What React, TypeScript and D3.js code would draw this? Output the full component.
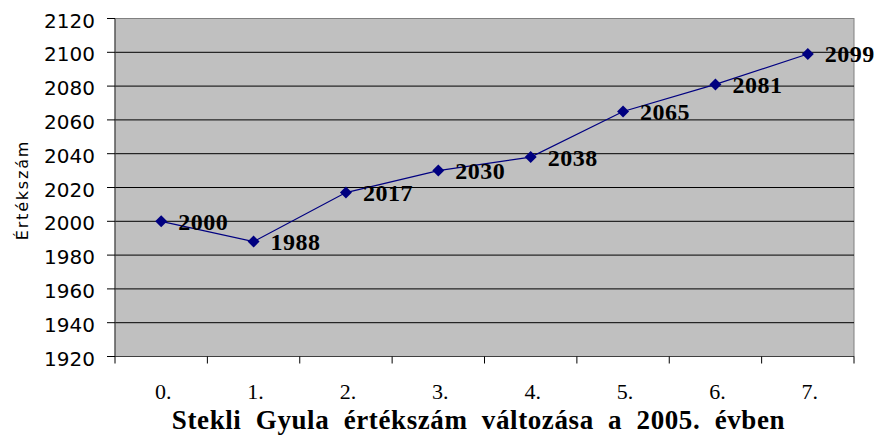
import * as d3 from "d3";

const categories = ["0.", "1.", "2.", "3.", "4.", "5.", "6.", "7."];
const values = [2000, 1988, 2017, 2030, 2038, 2065, 2081, 2099];
const yTicks = [1920, 1940, 1960, 1980, 2000, 2020, 2040, 2060, 2080, 2100, 2120];
const title = "Stekli Gyula értékszám változása a 2005. évben";
const yTitle = "Értékszám";

export default function App() {
  const width = 878;
  const height = 436;
  const left = 115;
  const right = 854;
  const top = 18.5;
  const bottom = 356.5;

  const x = d3.scaleBand().domain(categories).range([left, right]);
  const y = d3.scaleLinear().domain([1920, 2120]).range([bottom, top]);
  const line = d3
    .line<number>()
    .x((_, i) => x(categories[i])! + x.bandwidth() / 2)
    .y((d) => y(d));

  const bounds = d3.range(categories.length + 1).map((i) => left + i * x.bandwidth());

  return (
    <svg
      width={width}
      height={height}
      viewBox={`0 0 ${width} ${height}`}
      style={{ position: "absolute", left: 0, top: 0, background: "#fff" }}
    >
      <rect x={left} y={top} width={right - left} height={bottom - top} fill="#c0c0c0" stroke="#808080" />
      {yTicks.slice(1, -1).map((t) => (
        <line key={t} x1={left} x2={right} y1={y(t)} y2={y(t)} stroke="#000" strokeWidth={1} />
      ))}
      <line x1={left} x2={left} y1={top} y2={bottom} stroke="#404040" />
      <line x1={left} x2={right} y1={bottom} y2={bottom} stroke="#404040" />
      {yTicks.map((t) => (
        <g key={t}>
          <line x1={left - 8} x2={left} y1={y(t)} y2={y(t)} stroke="#000" />
          <text
            x={95}
            y={y(t) + 9}
            textAnchor="end"
            fontFamily="DejaVu Sans"
            fontSize={20}
            fill="#000"
          >
            {t}
          </text>
        </g>
      ))}
      {bounds.map((bx, i) => (
        <line key={i} x1={bx} x2={bx} y1={bottom} y2={bottom + 7} stroke="#000" />
      ))}
      {categories.map((c) => (
        <text
          key={c}
          x={x(c)! + x.bandwidth() / 2 + 2}
          y={399}
          textAnchor="middle"
          fontFamily="Liberation Serif"
          fontSize={22}
          fill="#000"
        >
          {c}
        </text>
      ))}
      <path d={line(values)!} fill="none" stroke="#000080" strokeWidth={1.2} />
      {values.map((v, i) => {
        const cx = x(categories[i])! + x.bandwidth() / 2;
        const cy = y(v);
        return (
          <g key={i}>
            <path d={`M${cx} ${cy - 6} L${cx + 6} ${cy} L${cx} ${cy + 6} L${cx - 6} ${cy} Z`} fill="#000080" />
            <text
              x={cx + 17}
              y={cy + 8.5}
              fontFamily="Liberation Serif"
              fontWeight="bold"
              fontSize={24}
              letterSpacing={0.5}
              fill="#000"
            >
              {v}
            </text>
          </g>
        );
      })}
      <text
        x={478.5}
        y={429}
        textAnchor="middle"
        fontFamily="Liberation Serif"
        fontWeight="bold"
        fontSize={27}
        letterSpacing={0.6}
        wordSpacing={7}
        fill="#000"
      >
        {title}
      </text>
      <text
        transform={`translate(28, 190) rotate(-90)`}
        textAnchor="middle"
        fontFamily="DejaVu Sans"
        fontSize={16}
        letterSpacing={1.8}
        fill="#000"
      >
        {yTitle}
      </text>
    </svg>
  );
}
